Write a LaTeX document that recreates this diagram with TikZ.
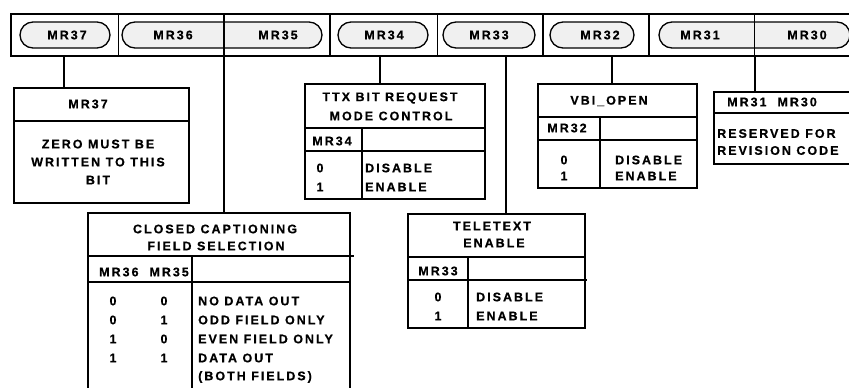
\documentclass[tikz,border=0pt]{standalone}
\usepackage{fontspec}
\setmainfont{Liberation Sans}[LetterSpace=16, BoldFont={Liberation Sans Bold}, BoldFeatures={FakeBold=0.6}]
\begin{document}
\begin{tikzpicture}[x=1pt,y=-1pt,
  lbl/.style={font=\fontsize{12.5}{18}\selectfont\bfseries, inner sep=0pt},
  lbll/.style={lbl, anchor=west},
  pill/.style={draw, line width=1.3pt, fill=gray!12, rounded corners=13pt,
    minimum height=26pt, inner sep=0pt},
  barbox/.style={draw, line width=2pt, minimum width=860pt, minimum height=42pt,
    anchor=north west, inner sep=0pt},
  box/.style={draw, line width=2pt, anchor=north west, inner sep=0pt},
  divln/.style={line width=1.6pt},
  thinln/.style={line width=1pt},
  thickln/.style={line width=2pt},
  conn/.style={line width=2pt},
]
\useasboundingbox (0,0) rectangle (849,388);
\clip (0,0) rectangle (849,388);

% ---------- register bar ----------
\node[barbox] (bar) at (10,13) {};
\node[pill, minimum width=90pt]  (p37)   at (65,35) {};
\node[pill, minimum width=200pt] (p3635) at (222,35) {};
\node[pill, minimum width=90pt]  (p34)   at (383,35) {};
\node[pill, minimum width=92pt]  (p33)   at (489,35) {};
\node[pill, minimum width=84pt]  (p32)   at (592,35) {};
\node[pill, minimum width=191pt] (p3130) at (754.5,35) {};

\node[lbl] (t37) at (67,35) {MR37};
\node[lbl] (t36) at (173,35) {MR36};
\node[lbl] (t35) at (278,35) {MR35};
\node[lbl] (t34) at (384,35) {MR34};
\node[lbl] (t33) at (489,35) {MR33};
\node[lbl] (t32) at (600,35) {MR32};
\node[lbl] (t31) at (700,35) {MR31};
\node[lbl] (t30) at (807,35) {MR30};

% separators
\coordinate (s1) at (118,0);
\coordinate (s2) at (330,0);
\coordinate (s3) at (437,0);
\coordinate (s4) at (543,0);
\coordinate (s5) at (649,0);
\coordinate (s6) at (754,0);
\draw[thinln]  (s1 |- bar.north) -- (s1 |- bar.south);
\draw[thickln] (s2 |- bar.north) -- (s2 |- bar.south);
\draw[thinln]  (s3 |- bar.north) -- (s3 |- bar.south);
\draw[thickln] (s4 |- bar.north) -- (s4 |- bar.south);
\draw[thickln] (s5 |- bar.north) -- (s5 |- bar.south);
\draw[thinln]  (s6 |- bar.north) -- (s6 |- bar.south);

% column positions
\coordinate (col34) at (362,0);
\coordinate (col32) at (600,0);
\coordinate (col33) at (468,0);
\coordinate (col36) at (192,0);

% ---------- MR37 box ----------
\node[box, minimum width=175pt, minimum height=115pt] (b37) at (13,87) {};
\draw[divln] (b37.west |- 0,121) -- (b37.east |- 0,121);
\node[lbl] (h37) at (88,104) {MR37};
\node[lbl, align=center] (d37) at (98,162) {ZERO MUST BE\\WRITTEN TO THIS\\BIT};

% ---------- MR34 box ----------
\node[box, minimum width=180pt, minimum height=115pt] (b34) at (304,83) {};
\draw[divln] (b34.west |- 0,128) -- (b34.east |- 0,128);
\draw[divln] (b34.west |- 0,151) -- (b34.east |- 0,151);
\draw[divln] (col34 |- 0,128) -- (col34 |- b34.south);
\node[lbl] (h34a) at (390,98) {TTX BIT REQUEST};
\node[lbl] (h34b) at (391,116) {MODE CONTROL};
\node[lbl] (r34) at (332,141) {MR34};
\node[lbl] (v34a) at (320,168) {0};
\node[lbl] (v34b) at (320,187) {1};
\node[lbll] (e34a) at (365,168) {DISABLE};
\node[lbll] (e34b) at (365,187) {ENABLE};

% ---------- MR32 box ----------
\node[box, minimum width=159pt, minimum height=104pt] (b32) at (537,83) {};
\draw[divln] (b32.west |- 0,117) -- (b32.east |- 0,117);
\draw[divln] (b32.west |- 0,140) -- (b32.east |- 0,140);
\draw[divln] (col32 |- 0,117) -- (col32 |- b32.south);
\node[lbl] (h32) at (609,101) {VBI\_OPEN};
\node[lbl] (r32) at (567,128) {MR32};
\node[lbl] (v32a) at (564,160) {0};
\node[lbl] (v32b) at (564,176) {1};
\node[lbll] (e32a) at (615,160) {DISABLE};
\node[lbll] (e32b) at (615,176) {ENABLE};

% ---------- MR31/MR30 box ----------
\node[box, minimum width=160pt, minimum height=72pt] (b31) at (713,91) {};
\draw[divln] (b31.west |- 0,113) -- (b31.east |- 0,113);
\node[lbll] (h31) at (727,102) {MR31\ \ MR30};
\node[lbll, align=left] (d31) at (717,142) {RESERVED FOR\\[-1pt]REVISION CODE};

% ---------- MR33 box ----------
\node[box, minimum width=177pt, minimum height=114pt] (b33) at (407,213) {};
\draw[divln] (b33.west |- 0,257) -- (b33.east |- 0,257);
\draw[divln] (b33.west |- 0,280) -- (587,280);
\draw[divln] (col33 |- 0,257) -- (col33 |- b33.south);
\node[lbl] (h33a) at (492,226) {TELETEXT};
\node[lbl] (h33b) at (494,243) {ENABLE};
\node[lbl] (r33) at (438,271) {MR33};
\node[lbl] (v33a) at (438,297) {0};
\node[lbl] (v33b) at (438,316) {1};
\node[lbll] (e33a) at (476,297) {DISABLE};
\node[lbll] (e33b) at (476,316) {ENABLE};

% ---------- MR36/MR35 box ----------
\node[box, minimum width=262pt, minimum height=200pt] (b36) at (87,212) {};
\draw[divln] (b36.west |- 0,256) -- (354,256);
\draw[divln] (b36.west |- 0,282) -- (b36.east |- 0,282);
\draw[divln] (col36 |- 0,256) -- (col36 |- b36.south);
\node[lbl] (h36a) at (215,229) {CLOSED CAPTIONING};
\node[lbl] (h36b) at (216,246) {FIELD SELECTION};
\node[lbl] (r36) at (144,272) {MR36\ \ MR35};
\node[lbl] (c1a) at (113,301) {0};
\node[lbl] (c1b) at (113,320) {0};
\node[lbl] (c1c) at (113,339) {1};
\node[lbl] (c1d) at (113,358) {1};
\node[lbl] (c2a) at (164,301) {0};
\node[lbl] (c2b) at (164,320) {1};
\node[lbl] (c2c) at (164,339) {0};
\node[lbl] (c2d) at (164,358) {1};
\node[lbll] (f1) at (198,301) {NO DATA OUT};
\node[lbll] (f2) at (198,320) {ODD FIELD ONLY};
\node[lbll] (f3) at (198,339) {EVEN FIELD ONLY};
\node[lbll] (f4) at (198,358) {DATA OUT};
\node[lbll] (f5) at (198,377) {(BOTH FIELDS)};

% ---------- connectors ----------
\coordinate (k37) at (64,0);
\coordinate (k36) at (224,0);
\coordinate (k34) at (380,0);
\coordinate (k33) at (506,0);
\coordinate (k32) at (612,0);
\coordinate (k31) at (755,0);
\draw[conn] (k37 |- bar.south) -- (k37 |- b37.north);
\draw[conn] (k36 |- bar.north) -- (k36 |- b36.north);
\draw[conn] (k34 |- bar.south) -- (k34 |- b34.north);
\draw[conn] (k33 |- bar.south) -- (k33 |- b33.north);
\draw[conn] (k32 |- bar.south) -- (k32 |- b32.north);
\draw[conn] (k31 |- bar.south) -- (k31 |- b31.north);
\end{tikzpicture}
\end{document}
